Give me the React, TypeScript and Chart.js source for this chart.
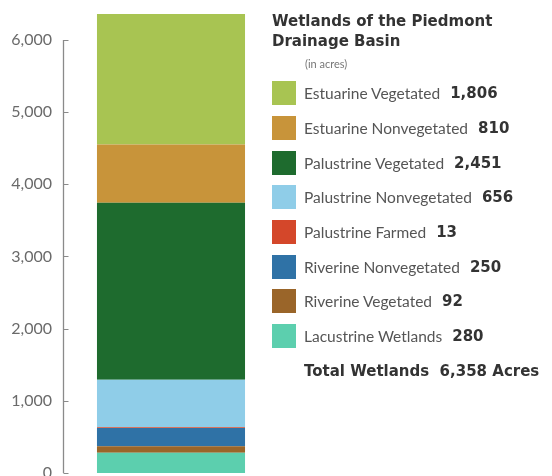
import React, { useEffect, useRef } from "react";
import { Chart, registerables } from "chart.js";

Chart.register(...registerables);

const categories = ["Piedmont Drainage Basin"];
// bottom-to-top stacking order
const seriesNames = [
  "Lacustrine Wetlands",
  "Riverine Vegetated",
  "Riverine Nonvegetated",
  "Palustrine Farmed",
  "Palustrine Nonvegetated",
  "Palustrine Vegetated",
  "Estuarine Nonvegetated",
  "Estuarine Vegetated",
];
const seriesValues = [280, 92, 250, 13, 656, 2451, 810, 1806];
const seriesColors = [
  "#5ccfae",
  "#9a6529",
  "#2f72a6",
  "#d4472a",
  "#8fcde8",
  "#1e6b2e",
  "#c8943a",
  "#a8c452",
];
const tickValues = [0, 1000, 2000, 3000, 4000, 5000, 6000];
const totalLabel = "6,358";

const labelFont = "Lato, 'Open Sans', sans-serif";
const boldFont = "'DejaVu Sans', sans-serif";

export default function App() {
  const canvasRef = useRef<HTMLCanvasElement | null>(null);

  useEffect(() => {
    const canvas = canvasRef.current;
    if (!canvas) return;
    const axisLine = {
      id: "axisLine",
      afterDraw(chart: any) {
        const y = chart.scales.y;
        const ctx = chart.ctx;
        const x = chart.chartArea.left - 2.5;
        ctx.save();
        ctx.strokeStyle = "#8a8a8a";
        ctx.lineWidth = 1.3;
        ctx.beginPath();
        ctx.moveTo(x, y.getPixelForValue(tickValues[tickValues.length - 1]));
        ctx.lineTo(x, y.getPixelForValue(0));
        ctx.stroke();
        ctx.lineWidth = 1;
        tickValues.forEach((v) => {
          const py = Math.round(y.getPixelForValue(v)) + 0.5;
          ctx.beginPath();
          ctx.moveTo(x, py);
          ctx.lineTo(x + 5, py);
          ctx.stroke();
        });
        ctx.restore();
      },
    };
    const chart = new Chart(canvas, {
      type: "bar",
      data: {
        labels: categories,
        datasets: seriesNames.map((name, i) => ({
          label: name,
          data: [seriesValues[i]],
          backgroundColor: seriesColors[i],
          borderWidth: 0,
          categoryPercentage: 1,
          barPercentage: 0.705,
        })),
      },
      options: {
        responsive: false,
        animation: false,
        layout: { padding: { top: 11, right: 276, bottom: 3, left: 0 } },
        plugins: { legend: { display: false }, tooltip: { enabled: false } },
        scales: {
          x: { display: false, stacked: true },
          y: {
            stacked: true,
            min: 0,
            max: 6400,
            afterBuildTicks: (s: any) => {
              s.ticks = tickValues.map((v) => ({ value: v }));
            },
            afterFit: (s: any) => {
              s.width = 66;
              s.paddingTop = 0;
              s.paddingBottom = 0;
            },
            border: { display: false },
            grid: { display: false },
            ticks: {
              color: "#6a6a6a",
              padding: 6,
              font: { family: labelFont, size: 16 },
              callback: (v: any) => Number(v).toLocaleString("en-US"),
            },
          },
        },
      },
      plugins: [axisLine],
    });
    return () => chart.destroy();
  }, []);

  const legendItems = seriesNames
    .map((n, i) => ({ name: n, value: seriesValues[i], color: seriesColors[i] }))
    .reverse();

  return (
    <div
      style={{
        position: "absolute",
        left: 0,
        top: 0,
        width: 552,
        height: 476,
        background: "#fff",
        overflow: "hidden",
      }}
    >
      <canvas
        ref={canvasRef}
        width={552}
        height={476}
        style={{ position: "absolute", left: 0, top: 0 }}
      />
      <div
        style={{
          position: "absolute",
          left: 272,
          top: 11,
          color: "#333",
        }}
      >
        <div
          style={{
            fontFamily: boldFont,
            fontWeight: 700,
            fontSize: 15,
            lineHeight: "20px",
          }}
        >
          Wetlands of the Piedmont
          <br />
          Drainage Basin
        </div>
        <div
          style={{
            fontFamily: labelFont,
            fontSize: 11,
            color: "#777",
            marginLeft: 33,
            lineHeight: "14px",
            marginTop: 6,
          }}
        >
          (in acres)
        </div>
      </div>
      <div
        style={{
          position: "absolute",
          left: 272,
          top: 76,
          fontFamily: labelFont,
        }}
      >
        {legendItems.map((it) => (
          <div
            key={it.name}
            style={{
              height: 34.7,
              display: "flex",
              alignItems: "center",
              whiteSpace: "nowrap",
            }}
          >
            <span
              style={{
                display: "inline-block",
                width: 24,
                height: 24,
                background: it.color,
                marginRight: 8,
              }}
            />
            <span style={{ fontSize: 15.5, color: "#555" }}>{it.name}</span>
            <span
              style={{
                fontFamily: boldFont,
                fontSize: 15,
                fontWeight: 700,
                color: "#333",
                marginLeft: 10,
              }}
            >
              {it.value.toLocaleString("en-US")}
            </span>
          </div>
        ))}
        <div
          style={{
            height: 34.7,
            display: "flex",
            alignItems: "center",
            whiteSpace: "nowrap",
            paddingLeft: 32,
            fontFamily: boldFont,
            fontWeight: 700,
            fontSize: 15,
            color: "#333",
          }}
        >
          Total Wetlands&nbsp;&nbsp;{totalLabel} Acres
        </div>
      </div>
    </div>
  );
}
